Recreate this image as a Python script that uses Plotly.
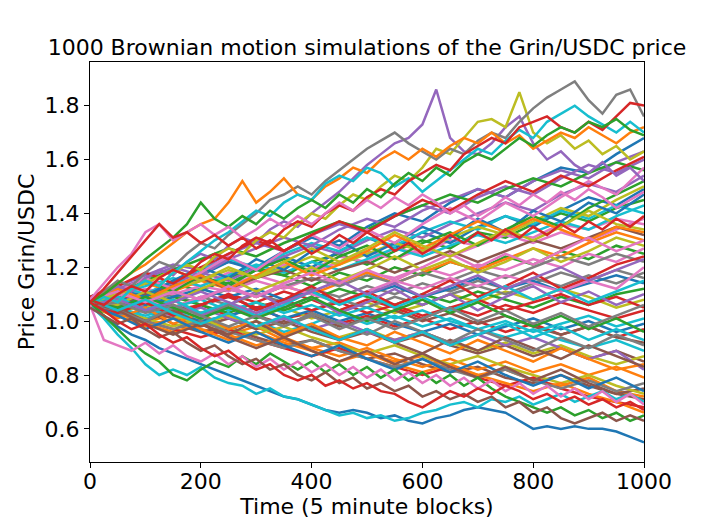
import plotly.graph_objects as go

# tab10 colour cycle (matplotlib default)
COLORS = ['#1f77b4', '#ff7f0e', '#2ca02c', '#d62728', '#9467bd',
          '#8c564b', '#e377c2', '#7f7f7f', '#bcbd22', '#17becf']

# time axis in 5 minute blocks
time_50 = list(range(0, 1001, 50))
time_25 = list(range(0, 1001, 25))

# bulk of the simulated paths, read every 50 blocks
bulk_paths = [
    [1.07,1.10,1.14,1.12,1.18,1.22,1.20,1.26,1.31,1.28,1.35,1.40,1.37,1.44,1.49,1.46,1.52,1.57,1.55,1.62,1.68],
    [1.06,1.03,1.00,1.02,0.97,0.95,0.98,0.93,0.90,0.92,0.88,0.85,0.87,0.83,0.80,0.82,0.78,0.76,0.79,0.74,0.72],
    [1.08,1.11,1.09,1.13,1.16,1.14,1.19,1.17,1.22,1.25,1.21,1.26,1.30,1.27,1.33,1.31,1.36,1.40,1.37,1.42,1.45],
    [1.07,1.05,1.08,1.04,1.06,1.02,1.05,1.01,1.03,0.99,1.02,0.98,1.01,0.97,1.00,0.96,0.99,0.95,0.98,0.94,0.97],
    [1.09,1.13,1.17,1.21,1.19,1.25,1.29,1.26,1.32,1.36,1.33,1.39,1.43,1.40,1.46,1.50,1.47,1.53,1.58,1.55,1.60],
    [1.05,1.02,1.04,0.99,0.96,0.98,0.94,0.91,0.93,0.89,0.86,0.88,0.84,0.81,0.83,0.79,0.77,0.80,0.76,0.73,0.75],
    [1.08,1.12,1.10,1.15,1.13,1.18,1.16,1.21,1.19,1.24,1.22,1.27,1.25,1.30,1.28,1.33,1.31,1.36,1.34,1.38,1.36],
    [1.07,1.04,1.07,1.10,1.06,1.09,1.05,1.08,1.12,1.09,1.13,1.10,1.14,1.11,1.15,1.12,1.16,1.13,1.17,1.14,1.18],
    [1.06,1.09,1.05,1.08,1.03,1.06,1.02,1.05,1.01,1.04,1.07,1.03,1.06,1.10,1.07,1.11,1.08,1.12,1.09,1.05,1.08],
    [1.08,1.05,1.01,1.04,1.00,0.97,1.00,0.96,0.99,1.03,0.99,1.02,0.98,1.01,0.97,0.94,0.97,0.93,0.90,0.93,0.89],
    [1.07,1.11,1.15,1.12,1.17,1.22,1.19,1.24,1.20,1.26,1.31,1.27,1.33,1.29,1.35,1.39,1.35,1.41,1.46,1.43,1.49],
    [1.06,1.03,0.99,0.96,0.99,0.95,0.91,0.94,0.90,0.87,0.90,0.86,0.83,0.86,0.82,0.85,0.81,0.84,0.80,0.83,0.79],
    [1.09,1.12,1.09,1.14,1.11,1.16,1.20,1.17,1.13,1.18,1.15,1.20,1.17,1.22,1.19,1.24,1.21,1.26,1.23,1.28,1.25],
    [1.07,1.10,1.07,1.03,1.06,1.10,1.07,1.11,1.08,1.04,1.08,1.05,1.01,1.05,1.02,1.06,1.03,1.07,1.04,1.01,1.04],
    [1.08,1.06,1.10,1.14,1.18,1.15,1.20,1.24,1.28,1.25,1.30,1.34,1.31,1.36,1.40,1.44,1.41,1.47,1.51,1.48,1.54],
    [1.05,1.08,1.04,1.01,0.98,1.01,0.97,1.00,0.96,0.93,0.96,0.92,0.95,0.91,0.88,0.91,0.87,0.90,0.86,0.89,0.85],
    [1.07,1.09,1.12,1.10,1.13,1.11,1.15,1.12,1.16,1.14,1.18,1.16,1.20,1.17,1.21,1.19,1.23,1.20,1.25,1.22,1.27],
    [1.08,1.05,1.08,1.05,1.09,1.06,1.10,1.07,1.04,1.08,1.05,1.09,1.06,1.10,1.13,1.10,1.14,1.18,1.15,1.19,1.16],
    [1.06,1.04,1.01,0.98,1.01,0.97,0.95,0.98,0.94,0.91,0.88,0.91,0.87,0.84,0.87,0.83,0.80,0.77,0.80,0.76,0.73],
    [1.09,1.13,1.10,1.15,1.19,1.23,1.20,1.25,1.29,1.26,1.31,1.28,1.33,1.37,1.34,1.39,1.36,1.41,1.38,1.43,1.40],
    [1.07,1.04,1.06,1.03,1.00,1.02,1.05,1.01,1.04,1.00,1.03,0.99,0.96,0.99,0.95,0.98,1.01,0.97,1.00,0.96,0.99],
    [1.08,1.11,1.14,1.11,1.15,1.12,1.09,1.13,1.10,1.14,1.18,1.14,1.18,1.22,1.19,1.23,1.27,1.24,1.29,1.33,1.30],
    [1.06,1.08,1.05,1.09,1.06,1.03,1.07,1.04,1.08,1.12,1.09,1.06,1.10,1.07,1.11,1.08,1.05,1.09,1.06,1.10,1.12],
    [1.07,1.04,1.00,0.97,0.94,0.97,0.93,0.90,0.87,0.90,0.86,0.83,0.80,0.83,0.79,0.76,0.79,0.75,0.72,0.70,0.68],
    [1.08,1.12,1.16,1.20,1.17,1.23,1.27,1.31,1.28,1.34,1.38,1.35,1.41,1.45,1.49,1.46,1.52,1.56,1.53,1.59,1.63],
    [1.05,1.07,1.04,1.06,1.03,1.05,1.02,0.99,1.02,0.98,1.01,1.04,1.00,1.03,0.99,1.02,0.98,0.95,0.98,0.94,0.92],
    [1.09,1.11,1.08,1.12,1.16,1.13,1.17,1.14,1.18,1.22,1.26,1.23,1.27,1.24,1.28,1.32,1.29,1.33,1.30,1.34,1.38],
    [1.07,1.05,1.08,1.11,1.08,1.12,1.09,1.13,1.16,1.13,1.17,1.14,1.18,1.15,1.19,1.16,1.20,1.24,1.21,1.25,1.22],
    [1.06,1.03,1.06,1.02,0.99,1.02,0.98,0.95,0.98,0.94,0.97,0.93,0.96,0.92,0.89,0.92,0.88,0.91,0.87,0.84,0.87],
    [1.08,1.10,1.13,1.16,1.13,1.17,1.21,1.18,1.22,1.19,1.23,1.27,1.24,1.28,1.32,1.29,1.33,1.37,1.34,1.39,1.43],
    [1.07,1.09,1.06,1.09,1.12,1.09,1.12,1.08,1.11,1.07,1.10,1.13,1.09,1.12,1.16,1.12,1.15,1.11,1.14,1.17,1.14],
    [1.06,1.02,0.98,1.01,0.97,0.93,0.96,0.92,0.89,0.85,0.88,0.84,0.81,0.84,0.80,0.77,0.74,0.77,0.73,0.70,0.66],
    [1.08,1.11,1.15,1.19,1.23,1.27,1.24,1.29,1.33,1.37,1.34,1.39,1.43,1.47,1.44,1.49,1.53,1.50,1.55,1.59,1.56],
    [1.07,1.04,1.07,1.03,1.06,1.09,1.05,1.08,1.04,1.07,1.03,1.06,1.02,1.05,1.08,1.04,1.07,1.10,1.06,1.09,1.05],
    [1.05,1.08,1.05,1.02,1.05,1.01,0.98,1.01,0.97,1.00,0.96,0.93,0.96,0.92,0.95,0.91,0.94,0.90,0.86,0.89,0.82],
    [1.09,1.06,1.10,1.13,1.16,1.12,1.16,1.19,1.15,1.19,1.22,1.18,1.22,1.26,1.22,1.26,1.30,1.27,1.31,1.35,1.32],
    [1.07,1.10,1.08,1.05,1.09,1.12,1.09,1.13,1.10,1.07,1.11,1.15,1.12,1.16,1.13,1.17,1.14,1.11,1.15,1.12,1.20],
    [1.06,1.03,1.00,0.97,1.00,0.96,0.93,0.90,0.93,0.89,0.86,0.83,0.86,0.82,0.79,0.82,0.78,0.75,0.78,0.74,0.77],
    [1.08,1.11,1.08,1.12,1.15,1.19,1.16,1.20,1.24,1.21,1.25,1.29,1.26,1.31,1.35,1.32,1.37,1.42,1.39,1.45,1.50],
    [1.07,1.05,1.02,1.05,1.08,1.04,1.07,1.03,1.06,1.02,1.05,1.01,1.04,1.00,0.97,1.00,0.96,0.99,1.02,0.98,1.01],
    [1.07,1.12,1.09,1.15,1.20,1.16,1.23,1.19,1.26,1.30,1.24,1.29,1.35,1.31,1.38,1.33,1.41,1.37,1.44,1.40,1.47],
    [1.06,1.01,1.05,0.99,1.03,0.97,1.00,0.95,0.99,0.94,0.91,0.96,0.92,0.88,0.93,0.89,0.85,0.90,0.86,0.82,0.84],
    [1.08,1.10,1.15,1.11,1.17,1.13,1.19,1.23,1.18,1.24,1.28,1.23,1.29,1.33,1.28,1.34,1.39,1.35,1.42,1.47,1.52],
    [1.07,1.03,1.07,1.02,1.06,1.10,1.04,1.08,1.13,1.07,1.11,1.06,1.10,1.15,1.09,1.13,1.18,1.12,1.16,1.21,1.24],
    [1.05,1.09,1.04,1.08,1.02,1.06,1.11,1.05,1.09,1.03,1.07,1.12,1.06,1.10,1.04,1.09,1.13,1.07,1.11,1.06,1.10],
    [1.09,1.05,1.00,1.04,0.99,0.95,1.00,0.94,0.98,0.93,0.97,0.92,0.88,0.93,0.89,0.94,0.90,0.86,0.91,0.87,0.83],
    [1.07,1.11,1.16,1.12,1.18,1.24,1.19,1.26,1.32,1.27,1.34,1.29,1.36,1.42,1.37,1.44,1.39,1.46,1.52,1.47,1.57],
    [1.06,1.04,1.00,1.05,1.01,1.06,1.02,0.98,1.03,0.99,0.95,1.00,0.96,0.92,0.97,0.93,0.89,0.94,0.90,0.95,0.91],
    [1.08,1.06,1.11,1.07,1.12,1.16,1.11,1.15,1.20,1.15,1.19,1.24,1.19,1.23,1.18,1.22,1.27,1.22,1.26,1.31,1.28],
    [1.07,1.09,1.04,1.08,1.03,1.07,1.02,1.06,1.11,1.06,1.10,1.05,1.09,1.04,1.08,1.13,1.08,1.12,1.07,1.11,1.15],
    [1.06,1.02,0.97,1.01,0.96,0.92,0.96,0.91,0.87,0.91,0.86,0.82,0.86,0.81,0.85,0.80,0.76,0.80,0.75,0.79,0.74],
    [1.08,1.12,1.08,1.13,1.17,1.12,1.17,1.22,1.17,1.21,1.26,1.32,1.27,1.32,1.37,1.33,1.38,1.34,1.30,1.35,1.33],
    [1.07,1.05,1.09,1.05,1.01,1.05,1.01,1.05,1.09,1.04,1.00,1.04,1.08,1.03,1.07,1.02,0.98,1.02,0.97,1.01,0.96],
    [1.09,1.13,1.18,1.14,1.20,1.25,1.30,1.26,1.32,1.37,1.33,1.39,1.45,1.41,1.47,1.52,1.48,1.54,1.50,1.56,1.61],
    [1.06,1.08,1.04,1.07,1.11,1.07,1.03,1.07,1.11,1.15,1.10,1.14,1.09,1.13,1.17,1.12,1.16,1.20,1.15,1.19,1.23],
    [1.07,1.04,0.99,0.95,0.99,0.94,0.90,0.94,0.89,0.85,0.89,0.84,0.88,0.83,0.79,0.83,0.78,0.82,0.77,0.73,0.71],
    [1.08,1.11,1.07,1.11,1.08,1.13,1.09,1.14,1.18,1.14,1.19,1.15,1.20,1.25,1.20,1.25,1.21,1.26,1.31,1.26,1.30],
    [1.05,1.07,1.03,1.06,1.02,0.98,1.02,0.98,1.02,0.97,1.01,0.97,1.01,1.05,1.00,1.04,0.99,1.03,0.98,1.02,1.06],
    [1.07,1.10,1.14,1.19,1.15,1.20,1.16,1.22,1.27,1.22,1.27,1.33,1.28,1.24,1.29,1.34,1.30,1.35,1.41,1.36,1.34],
    [1.08,1.04,1.08,1.03,0.99,1.03,0.98,1.02,0.97,0.93,0.97,0.92,0.96,0.91,0.95,0.99,0.94,0.98,0.93,0.97,0.93],
]

# the outermost paths, read every 25 blocks (colour index, values)
edge_paths = [
    # purple spike around t=625
    (4, [1.08,1.10,1.13,1.11,1.16,1.19,1.17,1.22,1.25,1.23,1.28,1.31,1.29,1.34,1.37,1.35,1.40,1.44,1.48,1.53,1.58,
         1.62,1.66,1.68,1.73,1.86,1.68,1.63,1.62,1.66,1.72,1.76,1.66,1.60,1.63,1.58,1.55,1.59,1.54,1.57,1.52]),
    # olive spike around t=770
    (8, [1.07,1.09,1.07,1.12,1.15,1.13,1.18,1.21,1.19,1.24,1.27,1.25,1.30,1.33,1.31,1.36,1.40,1.38,1.43,1.47,1.45,
         1.50,1.54,1.52,1.57,1.64,1.62,1.68,1.74,1.75,1.72,1.85,1.70,1.66,1.69,1.64,1.67,1.62,1.65,1.60,1.63]),
    # grey, highest point near t=880
    (7, [1.08,1.11,1.15,1.13,1.18,1.22,1.20,1.25,1.29,1.27,1.32,1.36,1.40,1.45,1.47,1.50,1.47,1.52,1.56,1.60,1.64,
         1.67,1.70,1.66,1.63,1.60,1.64,1.62,1.67,1.70,1.68,1.74,1.79,1.83,1.86,1.89,1.82,1.77,1.84,1.86,1.76]),
    # orange, early high
    (1, [1.07,1.10,1.14,1.18,1.21,1.25,1.29,1.33,1.36,1.38,1.44,1.52,1.44,1.48,1.53,1.47,1.45,1.50,1.53,1.57,1.55,
         1.60,1.63,1.60,1.64,1.61,1.65,1.68,1.66,1.70,1.66,1.69,1.64,1.67,1.70,1.68,1.72,1.69,1.66,1.70,1.72]),
    # cyan, top band
    (9, [1.06,1.09,1.07,1.12,1.15,1.13,1.18,1.22,1.26,1.30,1.33,1.37,1.41,1.39,1.44,1.47,1.45,1.51,1.54,1.52,1.57,
         1.55,1.50,1.53,1.48,1.52,1.56,1.60,1.64,1.62,1.67,1.71,1.68,1.74,1.77,1.80,1.76,1.73,1.70,1.74,1.70]),
    # red, highest at the end
    (3, [1.08,1.06,1.10,1.13,1.11,1.16,1.19,1.17,1.22,1.25,1.23,1.28,1.31,1.29,1.34,1.37,1.35,1.40,1.43,1.41,1.46,
         1.49,1.47,1.52,1.55,1.58,1.56,1.62,1.65,1.68,1.66,1.72,1.74,1.76,1.72,1.70,1.74,1.71,1.76,1.81,1.80]),
    # green, early peak near t=210
    (2, [1.07,1.10,1.14,1.18,1.23,1.27,1.31,1.36,1.44,1.38,1.35,1.39,1.36,1.41,1.38,1.42,1.45,1.42,1.47,1.44,1.49,
         1.46,1.51,1.55,1.52,1.57,1.54,1.59,1.62,1.60,1.64,1.68,1.65,1.69,1.72,1.70,1.74,1.72,1.75,1.71,1.69]),
    # pink, early high
    (6, [1.08,1.14,1.20,1.25,1.33,1.36,1.30,1.33,1.36,1.32,1.35,1.31,1.34,1.38,1.35,1.39,1.36,1.40,1.44,1.41,1.45,
         1.42,1.46,1.43,1.47,1.44,1.40,1.43,1.39,1.42,1.46,1.43,1.47,1.44,1.48,1.45,1.49,1.46,1.42,1.45,1.48]),
    # red, early peak near t=135
    (3, [1.07,1.12,1.18,1.24,1.30,1.36,1.31,1.33,1.29,1.32,1.28,1.31,1.27,1.30,1.26,1.29,1.25,1.28,1.32,1.29,1.33,
         1.30,1.26,1.29,1.25,1.28,1.32,1.29,1.33,1.30,1.34,1.31,1.35,1.32,1.36,1.33,1.37,1.34,1.38,1.35,1.39]),
    # blue, lowest at the end
    (0, [1.05,1.02,0.98,0.95,0.93,0.90,0.88,0.86,0.84,0.82,0.80,0.78,0.76,0.74,0.72,0.71,0.69,0.67,0.66,0.67,0.66,
         0.64,0.65,0.63,0.62,0.64,0.65,0.67,0.68,0.67,0.66,0.63,0.60,0.61,0.60,0.61,0.60,0.60,0.59,0.57,0.55]),
    # cyan, low band
    (9, [1.06,1.01,0.95,0.90,0.84,0.80,0.82,0.80,0.83,0.79,0.77,0.76,0.73,0.75,0.72,0.71,0.69,0.67,0.65,0.66,0.64,
         0.65,0.63,0.64,0.66,0.67,0.69,0.70,0.68,0.71,0.70,0.72,0.69,0.71,0.73,0.70,0.72,0.74,0.71,0.73,0.70]),
    # green, early dip near t=170
    (2, [1.07,1.02,0.97,0.92,0.88,0.85,0.80,0.78,0.82,0.85,0.83,0.87,0.84,0.88,0.85,0.82,0.85,0.81,0.84,0.80,0.83,
         0.79,0.82,0.78,0.81,0.77,0.80,0.76,0.79,0.75,0.72,0.70,0.68,0.66,0.68,0.65,0.67,0.64,0.66,0.63,0.65]),
    # pink, early drop
    (6, [1.06,0.93,0.91,0.89,0.92,0.88,0.91,0.87,0.85,0.88,0.84,0.87,0.83,0.86,0.82,0.85,0.81,0.84,0.80,0.83,0.79,
         0.82,0.78,0.81,0.77,0.80,0.76,0.79,0.75,0.78,0.74,0.77,0.73,0.76,0.72,0.75,0.71,0.74,0.70,0.73,0.69]),
    # brown, low band
    (5, [1.05,1.02,0.99,1.01,0.97,0.94,0.96,0.92,0.89,0.91,0.87,0.84,0.86,0.82,0.84,0.80,0.78,0.81,0.77,0.79,0.75,
         0.77,0.74,0.76,0.72,0.74,0.71,0.73,0.70,0.72,0.68,0.70,0.66,0.68,0.64,0.62,0.64,0.66,0.63,0.65,0.63]),
    # red, low band
    (3, [1.07,1.04,1.00,0.97,0.99,0.95,0.92,0.94,0.90,0.87,0.89,0.85,0.82,0.84,0.80,0.78,0.80,0.76,0.78,0.75,0.77,
         0.74,0.73,0.70,0.68,0.71,0.74,0.72,0.75,0.73,0.76,0.74,0.71,0.73,0.70,0.72,0.69,0.71,0.68,0.70,0.67]),
]

fig = go.Figure()

for i, ys in enumerate(bulk_paths):
    fig.add_trace(go.Scatter(x=time_50, y=ys, mode='lines',
                             line=dict(color=COLORS[i % 10], width=2.5),
                             showlegend=False))

for c, ys in edge_paths:
    fig.add_trace(go.Scatter(x=time_25, y=ys, mode='lines',
                             line=dict(color=COLORS[c], width=2.5),
                             showlegend=False))

axis_style = dict(showgrid=False, zeroline=False, showline=True, mirror=True,
                  linecolor='black', linewidth=1, ticks='outside', ticklen=5,
                  tickwidth=1, tickcolor='black', automargin=False,
                  tickfont=dict(size=22, color='black'))

fig.update_xaxes(range=[0, 1000], tickvals=[0, 200, 400, 600, 800, 1000],
                 ticklabelstandoff=-5,
                 title=dict(text='Time (5 minute blocks)', font=dict(size=22, color='black'), standoff=0),
                 **axis_style)
fig.update_yaxes(range=[0.477, 1.962], tickvals=[0.6, 0.8, 1.0, 1.2, 1.4, 1.6, 1.8],
                 tickformat='.1f',
                 title=dict(text='Price Grin/USDC', font=dict(size=22, color='black'), standoff=3),
                 **axis_style)

# the page body adds an 8px offset, so margins are shifted to compensate
fig.update_layout(
    width=716, height=519,
    margin=dict(l=82, r=80, t=54, b=65),
    paper_bgcolor='white', plot_bgcolor='white',
    font=dict(family='DejaVu Sans', size=22, color='black'),
    title=dict(text='1000 Brownian motion simulations of the Grin/USDC price',
               x=0.5, xref='paper', xanchor='center',
               y=1, yref='paper', yanchor='bottom', pad=dict(b=7),
               font=dict(size=22, color='black')),
)

fig.write_html("out.html")
